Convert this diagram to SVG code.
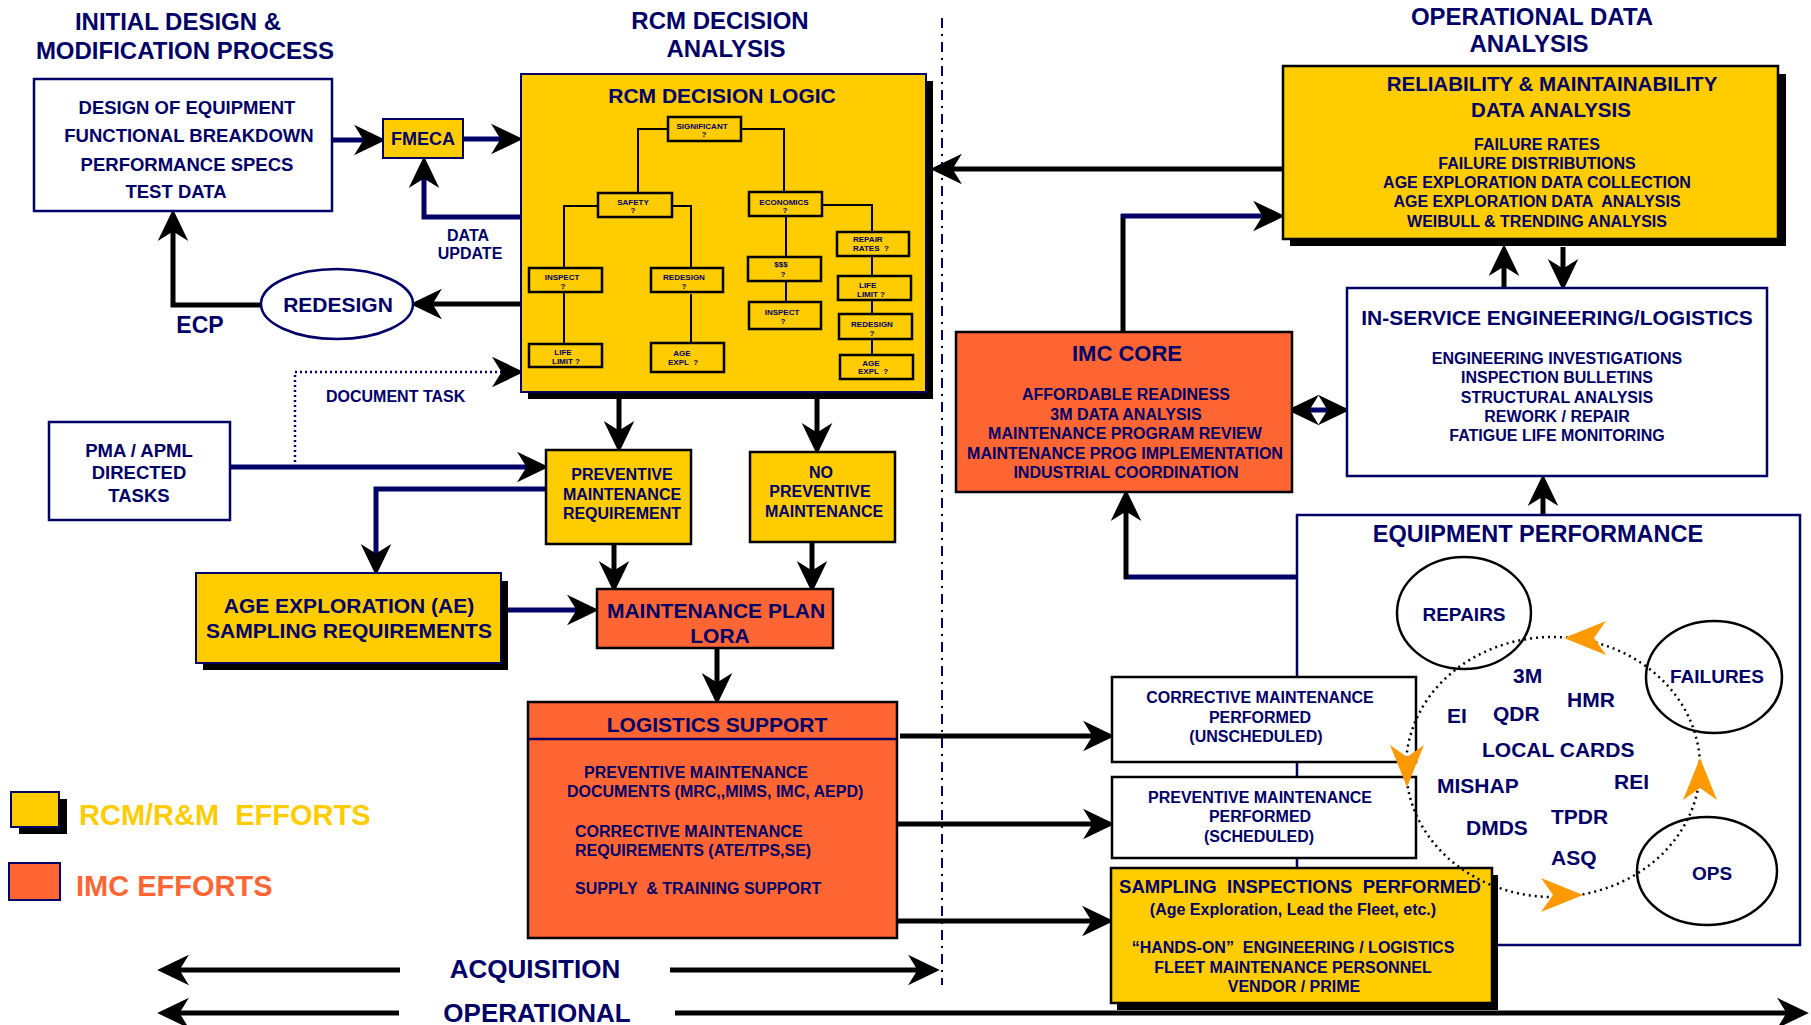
<svg xmlns="http://www.w3.org/2000/svg" width="1811" height="1025" viewBox="0 0 1811 1025">
<style>
text{font-family:"Liberation Sans",Arial,sans-serif;font-weight:bold;fill:#000066}
.c{text-anchor:middle}
.pre{white-space:pre}
.t24{font-size:24px}
.t21{font-size:21px}
.t18{font-size:18.5px}
.t16{font-size:16px}
.t8{font-size:8px}
.nb{fill:#fff;stroke:#000066;stroke-width:2.5}
.yb{fill:#FFCC00;stroke:#000066;stroke-width:2}
.yk{fill:#FFCC00;stroke:#000;stroke-width:2.5}
.ok{fill:#FF6633;stroke:#000;stroke-width:2.5}
.wk{fill:#fff;stroke:#000;stroke-width:2.5}
.sh{fill:#000}
.lb{fill:#FFCC00;stroke:#000;stroke-width:2.5}
.ln{fill:none;stroke:#000;stroke-width:2}
.lnn{fill:none;stroke:#000066;stroke-width:2}
.cn{fill:none;stroke:#000066;stroke-width:5;marker-end:url(#ah)}
.ck{fill:none;stroke:#000;stroke-width:5;marker-end:url(#ah)}
.ckp{fill:none;stroke:#000;stroke-width:5}
.cnp{fill:none;stroke:#000066;stroke-width:5}
.circ{fill:none;stroke:#000;stroke-width:2.5}
.oa{fill:#FF9900}
</style>
<defs>
<marker id="ah" markerUnits="userSpaceOnUse" markerWidth="40" markerHeight="40" viewBox="-14 -16 34 32" refX="0" refY="0" orient="auto-start-reverse" overflow="visible">
<path d="M16,0 L-11,-13 L-3,0 L-11,13 Z" fill="#000"/>
</marker>
<path id="oah" d="M0,0 L-42,-17 L-30,0 L-42,17 Z"/>
</defs>
<rect width="1811" height="1025" fill="#fff"/>

<g id="titles">
<text class="t24 c" x="178" y="30">INITIAL DESIGN &amp;</text>
<text class="t24 c" x="185" y="59">MODIFICATION PROCESS</text>
<text class="t24 c" x="720" y="29">RCM DECISION</text>
<text class="t24 c" x="726" y="57">ANALYSIS</text>
<text class="t24 c" x="1532" y="25">OPERATIONAL DATA</text>
<text class="t24 c" x="1529" y="52">ANALYSIS</text>
</g>

<g id="divider">
<line x1="942" y1="18" x2="942" y2="985" stroke="#000066" stroke-width="2" stroke-dasharray="10 6 2 6"/>
</g>

<g id="connectors">
<path class="cn" d="M332,140 H367"/>
<path class="cn" d="M464,139 H504"/>
<path class="cn" d="M521,217 H424 V175"/>
<path class="ck" d="M521,304 H429"/>
<path class="ck" d="M260,305 H173 V228"/>
<path d="M295,462 V372 H505" fill="none" stroke="#000066" stroke-width="2.5" stroke-dasharray="2 3" marker-end="url(#ah)"/>
<path class="cn" d="M230,467 H530"/>
<path class="cn" d="M546,489 H376 V557"/>
<path class="cn" d="M507,610 H580"/>
<path class="ck" d="M619,398 V434"/>
<path class="ck" d="M817,398 V436"/>
<path class="ck" d="M614,544 V574"/>
<path class="ck" d="M812,542 V574"/>
<path class="ck" d="M717,648 V686"/>
<path class="ck" d="M1282,169 H949"/>
<path class="ckp" d="M1123,332 V214"/>
<path class="cn" d="M1121,216 H1266"/>
<path class="ck" d="M1504,288 V263"/>
<path class="ck" d="M1563,247 V272"/>
<path class="cn" d="M1306,410 H1331" marker-start="url(#ah)"/>
<path class="ck" d="M1543,515 V493"/>
<path class="cnp" d="M1297,577 H1124"/>
<path class="ck" d="M1126,579 V508"/>
<path class="ck" d="M900,736 H1096"/>
<path class="ck" d="M897,824 H1096"/>
<path class="ck" d="M897,921 H1095"/>
<path class="ck" d="M400,970 H176"/>
<path class="ck" d="M670,970 H921"/>
<path class="ck" d="M399,1013 H176"/>
<path class="ck" d="M675,1013 H1790"/>
</g>

<g id="design-box">
<rect class="nb" x="34" y="79" width="298" height="132" stroke-width="3"/>
<text class="t18 c" x="187" y="114">DESIGN OF EQUIPMENT</text>
<text class="t18 c" x="189" y="142">FUNCTIONAL BREAKDOWN</text>
<text class="t18 c" x="187" y="171">PERFORMANCE SPECS</text>
<text class="t18 c" x="176" y="198">TEST DATA</text>
</g>

<g id="fmeca">
<rect class="yb" x="383" y="119" width="80" height="39"/>
<text class="c" x="423" y="145" style="font-size:18px">FMECA</text>
</g>

<g id="data-update-label">
<text class="t16 c" x="468" y="241">DATA</text>
<text class="t16 c" x="470" y="259">UPDATE</text>
</g>

<g id="redesign">
<ellipse cx="337" cy="304" rx="76" ry="35" fill="#fff" stroke="#000066" stroke-width="2.5"/>
<text class="t21 c" x="338" y="312">REDESIGN</text>
</g>
<g id="ecp-label"><text class="c" x="200" y="333" style="font-size:23px">ECP</text></g>
<g id="document-task-label"><text class="t16" x="326" y="402">DOCUMENT TASK</text></g>

<g id="rcm-logic">
<rect class="sh" x="528" y="81" width="405" height="318"/>
<rect class="yb" x="521" y="74" width="405" height="318"/>
<text class="t21 c" x="722" y="103">RCM DECISION LOGIC</text>
<path class="ln" d="M668,129 H638 V193 M741,129 H784 V192 M598,206 H564 V268 M672,206 H691 V268 M564,292 V344 M691,294 V343 M786,216 V257 M822,205 H872 V232"/>
<path class="lnn" d="M786,281 V302 M872,256 V276 M872,300 V314 M872,339 V355"/>
<rect class="lb" x="668" y="117" width="73" height="24"/>
<rect class="lb" x="598" y="193" width="74" height="24"/>
<rect class="lb" x="749" y="192" width="73" height="24"/>
<rect class="lb" x="529" y="268" width="73" height="24"/>
<rect class="lb" x="651" y="268" width="72" height="24"/>
<rect class="lb" x="529" y="344" width="73" height="23"/>
<rect class="lb" x="651" y="343" width="73" height="29"/>
<rect class="lb" x="748" y="257" width="73" height="24"/>
<rect class="lb" x="749" y="302" width="72" height="27"/>
<rect class="lb" x="837" y="232" width="72" height="24"/>
<rect class="lb" x="838" y="276" width="73" height="24"/>
<rect class="lb" x="839" y="314" width="73" height="25"/>
<rect class="lb" x="840" y="355" width="73" height="24"/>
<text class="t8 c" x="702" y="129">SIGNIFICANT</text><text class="t8 c" x="704" y="137">?</text>
<text class="t8 c" x="633" y="205">SAFETY</text><text class="t8 c" x="633" y="213">?</text>
<text class="t8 c" x="784" y="205">ECONOMICS</text><text class="t8 c" x="785" y="213">?</text>
<text class="t8 c" x="562" y="280">INSPECT</text><text class="t8 c" x="563" y="289">?</text>
<text class="t8 c" x="684" y="280">REDESIGN</text><text class="t8 c" x="684" y="289">?</text>
<text class="t8 c" x="563" y="355">LIFE</text><text class="t8 c pre" x="566" y="364">LIMIT ?</text>
<text class="t8 c" x="682" y="356">AGE</text><text class="t8 c pre" x="683" y="365">EXPL  ?</text>
<text class="t8 c" x="781" y="267">$$$</text><text class="t8 c" x="783" y="277">?</text>
<text class="t8 c" x="782" y="315">INSPECT</text><text class="t8 c" x="783" y="324">?</text>
<text class="t8" x="853" y="242">REPAIR</text><text class="t8 pre" x="853" y="251">RATES  ?</text>
<text class="t8" x="859" y="288">LIFE</text><text class="t8 pre" x="857" y="297">LIMIT ?</text>
<text class="t8 c" x="872" y="327">REDESIGN</text><text class="t8 c" x="872" y="336">?</text>
<text class="t8 c" x="871" y="366">AGE</text><text class="t8 c pre" x="873" y="374">EXPL  ?</text>
</g>

<g id="pma">
<rect class="nb" x="49" y="422" width="181" height="98"/>
<text class="t18 c" x="139" y="457">PMA / APML</text>
<text class="t18 c" x="139" y="479">DIRECTED</text>
<text class="t18 c" x="139" y="502">TASKS</text>
</g>

<g id="pm-requirement">
<rect class="yk" x="546" y="450" width="145" height="94"/>
<text class="t16 c" x="622" y="480">PREVENTIVE</text>
<text class="t16 c" x="622" y="500">MAINTENANCE</text>
<text class="t16 c" x="622" y="519">REQUIREMENT</text>
</g>

<g id="no-pm">
<rect class="yk" x="750" y="452" width="145" height="90"/>
<text class="t16 c" x="821" y="478">NO</text>
<text class="t16 c" x="820" y="497">PREVENTIVE</text>
<text class="t16 c" x="824" y="517">MAINTENANCE</text>
</g>

<g id="age-exploration">
<rect class="sh" x="203" y="581" width="305" height="89"/>
<rect class="yb" x="196" y="573" width="305" height="90"/>
<text class="t21 c" x="349" y="613">AGE EXPLORATION (AE)</text>
<text class="t21 c" x="349" y="638">SAMPLING REQUIREMENTS</text>
</g>

<g id="maintenance-plan">
<rect class="ok" x="597" y="589" width="236" height="59"/>
<text class="t21 c" x="716" y="618">MAINTENANCE PLAN</text>
<text class="t21 c" x="720" y="643">LORA</text>
</g>

<g id="logistics-support">
<rect class="ok" x="528" y="702" width="369" height="236"/>
<line x1="529" y1="739" x2="896" y2="739" stroke="#000066" stroke-width="2.5"/>
<text class="t21 c" x="717" y="732">LOGISTICS SUPPORT</text>
<text class="t16" x="584" y="778">PREVENTIVE MAINTENANCE</text>
<text class="t16" x="567" y="797">DOCUMENTS (MRC,,MIMS, IMC, AEPD)</text>
<text class="t16" x="575" y="837">CORRECTIVE MAINTENANCE</text>
<text class="t16" x="575" y="856">REQUIREMENTS (ATE/TPS,SE)</text>
<text class="t16 pre" x="575" y="894">SUPPLY  &amp; TRAINING SUPPORT</text>
</g>

<g id="legend">
<rect class="sh" x="19" y="799" width="48" height="35"/>
<rect x="11" y="792" width="48" height="35" fill="#FFCC00" stroke="#000066" stroke-width="2"/>
<text class="pre" x="79" y="825" style="font-size:29px;fill:#FFCC00">RCM/R&amp;M  EFFORTS</text>
<rect x="9" y="863" width="51" height="37" fill="#FF6633" stroke="#000066" stroke-width="2"/>
<text x="76" y="896" style="font-size:29px;fill:#FF6633">IMC EFFORTS</text>
</g>

<g id="phase-labels">
<text class="c" x="535" y="978" style="font-size:26px">ACQUISITION</text>
<text class="c" x="537" y="1022" style="font-size:26px">OPERATIONAL</text>
</g>

<g id="rm-analysis">
<rect class="sh" x="1290" y="74" width="496" height="172"/>
<rect class="yk" x="1283" y="66" width="495" height="173"/>
<text class="c" x="1552" y="91" style="font-size:20.5px">RELIABILITY &amp; MAINTAINABILITY</text>
<text class="c" x="1551" y="117" style="font-size:20.5px">DATA ANALYSIS</text>
<text class="t16 c" x="1537" y="150">FAILURE RATES</text>
<text class="t16 c" x="1537" y="169">FAILURE DISTRIBUTIONS</text>
<text class="t16 c" x="1537" y="188">AGE EXPLORATION DATA COLLECTION</text>
<text class="t16 c pre" x="1537" y="207">AGE EXPLORATION DATA  ANALYSIS</text>
<text class="t16 c" x="1537" y="227">WEIBULL &amp; TRENDING ANALYSIS</text>
</g>

<g id="imc-core">
<rect class="ok" x="956" y="332" width="336" height="160"/>
<text class="c" x="1127" y="361" style="font-size:22px">IMC CORE</text>
<text class="t16 c" x="1126" y="400">AFFORDABLE READINESS</text>
<text class="t16 c" x="1126" y="420">3M DATA ANALYSIS</text>
<text class="t16 c" x="1125" y="439">MAINTENANCE PROGRAM REVIEW</text>
<text class="t16 c" x="1125" y="459">MAINTENANCE PROG IMPLEMENTATION</text>
<text class="t16 c" x="1126" y="478">INDUSTRIAL COORDINATION</text>
</g>

<g id="in-service">
<rect class="nb" x="1347" y="288" width="420" height="188"/>
<text class="t21 c" x="1557" y="325">IN-SERVICE ENGINEERING/LOGISTICS</text>
<text class="t16 c" x="1557" y="364">ENGINEERING INVESTIGATIONS</text>
<text class="t16 c" x="1557" y="383">INSPECTION BULLETINS</text>
<text class="t16 c" x="1557" y="403">STRUCTURAL ANALYSIS</text>
<text class="t16 c" x="1557" y="422">REWORK / REPAIR</text>
<text class="t16 c" x="1557" y="441">FATIGUE LIFE MONITORING</text>
</g>

<g id="equipment-performance">
<rect class="nb" x="1297" y="515" width="503" height="430"/>
<text class="c" x="1538" y="542" style="font-size:23.5px">EQUIPMENT PERFORMANCE</text>
<ellipse class="circ" cx="1464" cy="613" rx="67" ry="56"/>
<ellipse class="circ" cx="1714" cy="677" rx="68" ry="56"/>
<ellipse class="circ" cx="1707" cy="871" rx="70" ry="54"/>
<text class="c" x="1464" y="621" style="font-size:19px">REPAIRS</text>
<text class="c" x="1717" y="683" style="font-size:19px">FAILURES</text>
<text class="c" x="1712" y="880" style="font-size:19px">OPS</text>
<g style="font-size:21px">
<text x="1513" y="683">3M</text>
<text x="1567" y="707">HMR</text>
<text x="1447" y="723">EI</text>
<text x="1493" y="721">QDR</text>
<text x="1482" y="757">LOCAL CARDS</text>
<text x="1437" y="793">MISHAP</text>
<text x="1614" y="789">REI</text>
<text x="1551" y="824">TPDR</text>
<text x="1466" y="835">DMDS</text>
<text x="1551" y="865">ASQ</text>
</g>
</g>

<g id="cm-performed">
<rect class="wk" x="1112" y="677" width="304" height="85"/>
<text class="t16 c" x="1260" y="703">CORRECTIVE MAINTENANCE</text>
<text class="t16 c" x="1260" y="723">PERFORMED</text>
<text class="t16 c" x="1256" y="742">(UNSCHEDULED)</text>
</g>

<g id="pm-performed">
<rect class="wk" x="1112" y="777" width="304" height="81"/>
<text class="t16 c" x="1260" y="803">PREVENTIVE MAINTENANCE</text>
<text class="t16 c" x="1260" y="822">PERFORMED</text>
<text class="t16 c" x="1259" y="842">(SCHEDULED)</text>
</g>

<g id="sampling-inspections">
<rect class="sh" x="1117" y="875" width="381" height="135"/>
<rect class="yk" x="1111" y="868" width="381" height="135"/>
<text class="c pre" x="1300" y="893" style="font-size:18.5px">SAMPLING  INSPECTIONS  PERFORMED</text>
<text class="t16 c" x="1293" y="915">(Age Exploration, Lead the Fleet, etc.)</text>
<text class="t16 c pre" x="1293" y="953">“HANDS-ON”  ENGINEERING / LOGISTICS</text>
<text class="t16 c" x="1293" y="973">FLEET MAINTENANCE PERSONNEL</text>
<text class="t16 c" x="1294" y="992">VENDOR / PRIME</text>
</g>

<g id="equipment-cycle">
<ellipse cx="1553" cy="767" rx="147" ry="130" fill="none" stroke="#000" stroke-width="2.5" stroke-dasharray="2 4"/>
<use href="#oah" class="oa" transform="translate(1564,638) rotate(180)"/>
<use href="#oah" class="oa" transform="translate(1407,787) rotate(90)"/>
<use href="#oah" class="oa" transform="translate(1583,895)"/>
<use href="#oah" class="oa" transform="translate(1700,758) rotate(-90)"/>
</g>
</svg>
